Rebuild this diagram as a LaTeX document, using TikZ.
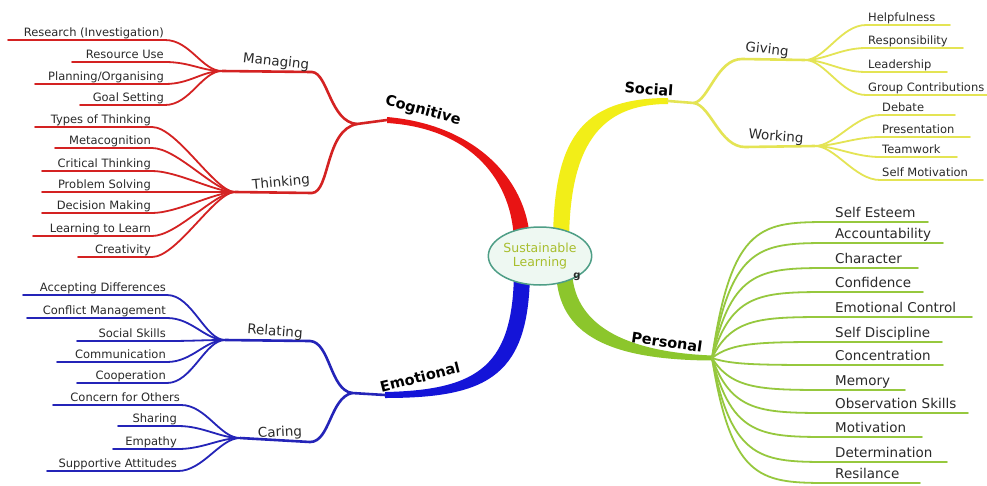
\documentclass[tikz,border=0pt]{standalone}
\usepackage{fontspec}
\setmainfont{DejaVu Sans}
\usetikzlibrary{calc,shapes.geometric}
\definecolor{redband}{HTML}{E81414}
\definecolor{redline}{HTML}{D42222}
\definecolor{blueband}{HTML}{1414D8}
\definecolor{blueline}{HTML}{2424B8}
\definecolor{yelband}{HTML}{F2EE18}
\definecolor{yelline}{HTML}{E4E454}
\definecolor{grnband}{HTML}{8CC62C}
\definecolor{grnline}{HTML}{96C83E}
\definecolor{txtgray}{HTML}{2A2A2A}
\definecolor{ctrfill}{HTML}{EEF8F2}
\definecolor{ctrdraw}{HTML}{4E9E86}
\definecolor{ctrtext}{HTML}{A8BE2E}
\tikzset{
  leaflbl/.style={inner sep=0pt, text=txtgray, font=\fontsize{11.5}{13}\selectfont},
  perslbl/.style={inner sep=0pt, text=txtgray, font=\fontsize{13.5}{15}\selectfont},
  sublbl/.style={inner sep=0pt, text=txtgray, font=\fontsize{13.5}{15}\selectfont},
  mainlbl/.style={inner sep=0pt, text=black, font=\bfseries\fontsize{14.5}{16}\selectfont},
  leafline/.style={line width=1.8pt, line cap=round},
  subline/.style={line width=2.6pt, line cap=round},
}
\newcommand\leafL[7]{%
  \coordinate (#3a) at (#4,#6);
  \coordinate (#3b) at (#5,#6);
  \draw[leafline,#1] (#2) .. controls ($(#2)+(-20,0)$) and ($(#3a)+(25,0)$) .. (#3a) -- (#3b);
  \node[leaflbl,anchor=base east] (#3) at ($(#3a)+(-1,-3.5)$) {#7};
}
\newcommand\leafR[7]{%
  \coordinate (#3a) at (#4,#6);
  \coordinate (#3b) at (#5,#6);
  \draw[leafline,#1] (#2) .. controls ($(#2)+(20,0)$) and ($(#3a)+(-25,0)$) .. (#3a) -- (#3b);
  \node[leaflbl,anchor=base west] (#3) at ($(#3a)+(2,-3.5)$) {#7};
}
\newcommand\leafP[4]{%
  \coordinate (#1a) at (832,#2);
  \coordinate (#1b) at (#3,#2);
  \draw[leafline,draw=grnline] (hubP) .. controls (Pa |- #1a) and (Pb |- #1a) .. (#1a) -- (#1b);
  \node[perslbl,anchor=base west] (#1) at ($(#1a)+(3,-5)$) {#4};
}
\begin{document}
\begin{tikzpicture}[x=1pt,y=-1pt]
\fill[white] (0,0) rectangle (987,485);
\useasboundingbox (0,0) rectangle (987,485);

% hubs and junctions
\coordinate (cogend) at (387,120);
\coordinate (cogj) at (357,124);
\coordinate (mgu) at (312,72);
\coordinate (hubM) at (222,71);
\coordinate (thu) at (312,193);
\coordinate (hubT) at (235,192);
\coordinate (emoend) at (385,395);
\coordinate (emoj) at (352,393);
\coordinate (relu) at (310,341);
\coordinate (hubR) at (225,340);
\coordinate (caru) at (310,442);
\coordinate (hubC) at (240,438);
\coordinate (socend) at (668,101);
\coordinate (socj) at (694,103);
\coordinate (giu) at (742,59);
\coordinate (hubG) at (805,60);
\coordinate (wou) at (745,147);
\coordinate (hubW) at (815,146);
\coordinate (hubP) at (712,358);
\coordinate (Pa) at (732,358);
\coordinate (Pb) at (762,358);

% thick main branches
\fill[redband] (530,245) .. controls (530,185) and (480,125) .. (387,117) -- (387,123)
  .. controls (470,128) and (514,180) .. (514,245) -- cycle;
\fill[blueband] (530,268) .. controls (530,375) and (490,398) .. (385,398) -- (385,392)
  .. controls (480,390) and (514,365) .. (514,268) -- cycle;
\fill[yelband] (553,245) .. controls (553,140) and (580,98) .. (668,98) -- (668,104)
  .. controls (600,104) and (569,145) .. (569,245) -- cycle;
\fill[grnband] (556,268) .. controls (556,330) and (600,360) .. (712,360.5) -- (712,355.5)
  .. controls (625,352) and (572,325) .. (572,268) -- cycle;

% sub branches
\draw[subline,redline] (cogend) -- (cogj);
\draw[subline,redline] (cogj) .. controls (330,122) and (328,73) .. (mgu) -- (hubM);
\draw[subline,redline] (cogj) .. controls (325,130) and (330,192) .. (thu) -- (hubT);
\draw[subline,blueline] (emoend) -- (emoj);
\draw[subline,blueline] (emoj) .. controls (330,390) and (330,342) .. (relu) -- (hubR);
\draw[subline,blueline] (emoj) .. controls (330,398) and (330,442) .. (caru) -- (hubC);
\draw[subline,yelline] (socend) -- (socj);
\draw[subline,yelline] (socj) .. controls (709,100) and (717,59) .. (giu) -- (hubG);
\draw[subline,yelline] (socj) .. controls (711,106) and (720,147) .. (wou) -- (hubW);

% Managing
\leafL{draw=redline}{hubM}{mRI}{165}{8}{40}{Research (Investigation)}
\leafL{draw=redline}{hubM}{mRU}{165}{72}{62}{Resource Use}
\leafL{draw=redline}{hubM}{mPO}{165}{35}{84}{Planning/Organising}
\leafL{draw=redline}{hubM}{mGS}{165}{80}{105}{Goal Setting}
% Thinking
\leafL{draw=redline}{hubT}{tTT}{152}{35}{127}{Types of Thinking}
\leafL{draw=redline}{hubT}{tMC}{152}{55}{148}{Metacognition}
\leafL{draw=redline}{hubT}{tCT}{152}{42}{171}{Critical Thinking}
\leafL{draw=redline}{hubT}{tPS}{152}{42}{192}{Problem Solving}
\leafL{draw=redline}{hubT}{tDM}{152}{42}{213}{Decision Making}
\leafL{draw=redline}{hubT}{tLL}{152}{33}{236}{Learning to Learn}
\leafL{draw=redline}{hubT}{tCR}{152}{78}{257}{Creativity}
% Relating
\leafL{draw=blueline}{hubR}{rAD}{167}{23}{295}{Accepting Differences}
\leafL{draw=blueline}{hubR}{rCM}{167}{27}{318}{Conflict Management}
\leafL{draw=blueline}{hubR}{rSS}{167}{77}{341}{Social Skills}
\leafL{draw=blueline}{hubR}{rCO}{167}{57}{362}{Communication}
\leafL{draw=blueline}{hubR}{rCP}{167}{77}{383}{Cooperation}
% Caring
\leafL{draw=blueline}{hubC}{cCF}{181}{53}{405}{Concern for Others}
\leafL{draw=blueline}{hubC}{cSH}{178}{118}{426}{Sharing}
\leafL{draw=blueline}{hubC}{cEM}{178}{113}{449}{Empathy}
\leafL{draw=blueline}{hubC}{cSA}{178}{47}{471}{Supportive Attitudes}
% Giving
\leafR{draw=yelline}{hubG}{gHF}{866}{950}{25}{Helpfulness}
\leafR{draw=yelline}{hubG}{gRS}{866}{963}{48}{Responsibility}
\leafR{draw=yelline}{hubG}{gLD}{866}{947}{72}{Leadership}
\leafR{draw=yelline}{hubG}{gGC}{866}{987}{95}{Group Contributions}
% Working
\leafR{draw=yelline}{hubW}{wDB}{880}{955}{115}{Debate}
\leafR{draw=yelline}{hubW}{wPR}{880}{970}{137}{Presentation}
\leafR{draw=yelline}{hubW}{wTW}{880}{957}{157}{Teamwork}
\leafR{draw=yelline}{hubW}{wSM}{880}{983}{180}{Self Motivation}
% Personal
\leafP{pSE}{222}{928}{Self Esteem}
\leafP{pAC}{243}{943}{Accountability}
\leafP{pCH}{268}{918}{Character}
\leafP{pCF}{292}{923}{Confidence}
\leafP{pEC}{317}{972}{Emotional Control}
\leafP{pSD}{342}{942}{Self Discipline}
\leafP{pCC}{365}{943}{Concentration}
\leafP{pME}{390}{905}{Memory}
\leafP{pOS}{413}{968}{Observation Skills}
\leafP{pMO}{437}{922}{Motivation}
\leafP{pDE}{462}{947}{Determination}
\leafP{pRE}{483}{920}{Resilance}

% center
\node[ellipse, draw=ctrdraw, fill=ctrfill, line width=1.5pt, minimum width=92pt, minimum height=58pt,
  inner sep=0pt, text=ctrtext, align=center, font=\fontsize{12.5}{14}\selectfont] (center) at (540,256)
  {Sustainable\\Learning};
\node[inner sep=0pt, text=txtgray, font=\bfseries\fontsize{10}{10}\selectfont] (gmark) at (577,277) {g};

% main labels
\node[mainlbl, rotate=-15] (cog) at (423,111) {Cognitive};
\node[mainlbl, rotate=14] (emo) at (420,377) {Emotional};
\node[mainlbl, rotate=-4] (soc) at (649,89) {Social};
\node[mainlbl, rotate=-8] (per) at (667,342) {Personal};

% sub labels
\node[sublbl, rotate=-6] (man) at (276,62) {Managing};
\node[sublbl, rotate=5] (thi) at (281,183) {Thinking};
\node[sublbl, rotate=-4] (rel) at (275,332) {Relating};
\node[sublbl, rotate=3] (car) at (280,433) {Caring};
\node[sublbl, rotate=-6] (giv) at (767,50) {Giving};
\node[sublbl, rotate=-4] (wor) at (776,137) {Working};
\end{tikzpicture}
\end{document}
